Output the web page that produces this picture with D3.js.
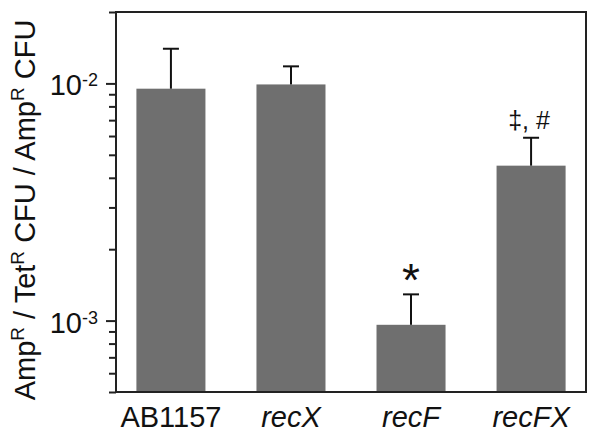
<!DOCTYPE html>
<html>
<head>
<meta charset="utf-8">
<script src="https://cdn.jsdelivr.net/npm/d3@7"></script>
<style>
  html, body { margin: 0; padding: 0; background: #fff; }
  svg { display: block; font-family: "Liberation Sans", Arial, Helvetica, sans-serif; }
</style>
</head>
<body>
<svg id="chart" width="600" height="434"></svg>
<script>
// ---- data ----
const categories = ["AB1157", "recX", "recF", "recFX"];
const italicCats = [false, true, true, true];
const means = [0.0095, 0.0099, 0.00096, 0.0045];
const errTops = [0.0140, 0.0118, 0.00129, 0.0059];
const annotations = ["", "", "*", "\u2021, #"];
const yDomain = [5e-4, 2e-2];
const majorTicks = [1e-2, 1e-3];
const majorExps = ["-2", "-3"];
const minorTicks = [5e-4,6e-4,7e-4,8e-4,9e-4,2e-3,3e-3,4e-3,5e-3,6e-3,7e-3,8e-3,9e-3,2e-2];

// ---- layout ----
const L = 116, R = 586, T = 12, B = 392;
const svg = d3.select("#chart");

const x = d3.scaleBand().domain(categories).range([L, R]).paddingInner(0.425).paddingOuter(0.17);
const y = d3.scaleLog().domain(yDomain).range([B, T]);

// bars
svg.selectAll("rect.bar").data(categories).enter().append("rect")
  .attr("class", "bar")
  .attr("x", d => x(d))
  .attr("width", x.bandwidth())
  .attr("y", (d, i) => y(means[i]))
  .attr("height", (d, i) => B - y(means[i]))
  .attr("fill", "#6f6f6f");

// error bars (upper only)
const capW = 16;
const eg = svg.append("g").attr("stroke", "#111").attr("stroke-width", 2);
categories.forEach((c, i) => {
  const cx = x(c) + x.bandwidth() / 2;
  eg.append("line").attr("x1", cx).attr("x2", cx).attr("y1", y(means[i])).attr("y2", y(errTops[i]));
  eg.append("line").attr("x1", cx - capW / 2).attr("x2", cx + capW / 2).attr("y1", y(errTops[i])).attr("y2", y(errTops[i]));
});

// frame
const fg = svg.append("g").attr("stroke", "#222").attr("stroke-width", 2).attr("fill", "none");
fg.append("rect").attr("x", L).attr("y", T).attr("width", R - L).attr("height", B - T);

// ticks via axis
const majorAxis = d3.axisLeft(y).tickValues(majorTicks).tickSize(10).tickFormat("");
const minorAxis = d3.axisLeft(y).tickValues(minorTicks).tickSize(7).tickFormat("");
[majorAxis, minorAxis].forEach(ax => {
  const g = svg.append("g").attr("transform", `translate(${L},0)`).call(ax);
  g.select(".domain").remove();
  g.selectAll("line").attr("stroke", "#222").attr("stroke-width", 2);
});

// major tick labels with superscript
majorTicks.forEach((v, i) => {
  const t = svg.append("text")
    .attr("x", 98).attr("y", y(v) + 12)
    .attr("text-anchor", "end")
    .attr("font-size", 29).attr("fill", "#111");
  t.append("tspan").text("10");
  t.append("tspan").attr("font-size", 18).attr("dy", -9).text(majorExps[i]);
});

// category labels
categories.forEach((c, i) => {
  svg.append("text")
    .attr("x", x(c) + x.bandwidth() / 2).attr("y", 427)
    .attr("text-anchor", "middle")
    .attr("font-size", 29)
    .attr("font-style", italicCats[i] ? "italic" : "normal")
    .attr("fill", "#111")
    .text(c);
});

// annotations
categories.forEach((c, i) => {
  if (!annotations[i]) return;
  const cx = x(c) + x.bandwidth() / 2;
  if (annotations[i] === "*") {
    svg.append("text").attr("x", cx).attr("y", y(errTops[i]) + 2)
      .attr("text-anchor", "middle").attr("font-size", 46).attr("fill", "#111").text(annotations[i]);
  } else {
    svg.append("text").attr("x", cx - 2).attr("y", y(errTops[i]) - 9)
      .attr("text-anchor", "middle").attr("font-size", 25).attr("fill", "#111").text(annotations[i]);
  }
});

// y axis title
const yt = svg.append("text")
  .attr("transform", "translate(35,210) rotate(-90)")
  .attr("text-anchor", "middle")
  .attr("font-size", 29).attr("fill", "#111");
const parts = [["Amp", false], ["R", true], [" / Tet", false], ["R", true], [" CFU / Amp", false], ["R", true], [" CFU", false]];
parts.forEach(([s, sup], k) => {
  const ts = yt.append("tspan").text(s);
  if (sup) ts.attr("font-size", 19).attr("dy", -11);
  else if (k > 0) ts.attr("dy", 11);
});
</script>
</body>
</html>
